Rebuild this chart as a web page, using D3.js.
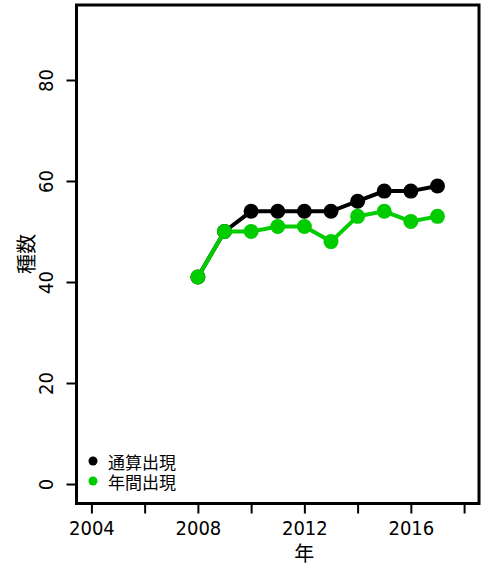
<!DOCTYPE html>
<html><head><meta charset="utf-8">
<script src="https://cdn.jsdelivr.net/npm/d3@7"></script>
<style>body{margin:0;background:#fff}svg{display:block}</style>
</head><body>
<script>
const years = [2008,2009,2010,2011,2012,2013,2014,2015,2016,2017];
const cumulative = [41,50,54,54,54,54,56,58,58,59];
const annual = [41,50,50,51,51,48,53,54,52,53];
const xTicks = [2004,2006,2008,2010,2012,2014,2016,2018];
const xTickLabels = ["2004","","2008","","2012","","2016",""];
const yTicks = [0,20,40,60,80];
const seriesNames = ["通算出現","年間出現"];
const seriesColors = ["#000000","#00CC00"];

const W=489,H=569;
const L=76.5,R=479,T=5,B=503.5;
const svg=d3.select("body").append("svg").attr("width",W).attr("height",H);
const x=d3.scaleLinear().domain([2003.44,2018.56]).range([L,R]);
const y=d3.scaleLinear().domain([-3.86,94.85]).range([B,T]);
const numFont="'DejaVu Sans Condensed','Liberation Sans Narrow','DejaVu Sans',sans-serif";
const cjkFont="'Noto Sans CJK JP',sans-serif";

// axes
const xa=svg.append("g").attr("transform",`translate(0,${B})`)
  .call(d3.axisBottom(x).tickValues(xTicks).tickFormat((d,i)=>xTickLabels[i]).tickSize(10).tickPadding(6));
const ya=svg.append("g").attr("transform",`translate(${L},0)`)
  .call(d3.axisLeft(y).tickValues(yTicks).tickSize(10).tickPadding(6));
[xa,ya].forEach(a=>{a.select(".domain").remove();a.selectAll("line").attr("stroke","#000").attr("stroke-width",2);
  a.selectAll("text").attr("font-family",numFont).attr("font-stretch","condensed").attr("font-size",20).attr("fill","#000");});
ya.selectAll(".tick text").attr("text-anchor","middle").attr("dy",null).attr("x",0)
  .attr("transform","translate(-31,0) rotate(-90)").attr("dominant-baseline","central");
xa.selectAll(".tick text").attr("dy","0.75em");

// box
svg.append("rect").attr("x",L).attr("y",T).attr("width",R-L).attr("height",B-T)
  .attr("fill","none").attr("stroke","#000").attr("stroke-width",3);

// series
const data=[cumulative,annual];
data.forEach((vals,si)=>{
  const pts=years.map((yr,i)=>[yr,vals[i]]);
  svg.append("path").datum(pts).attr("fill","none").attr("stroke",seriesColors[si]).attr("stroke-width",4)
    .attr("d",d3.line().x(d=>x(d[0])).y(d=>y(d[1])));
  svg.append("g").selectAll("circle").data(pts).join("circle")
    .attr("cx",d=>x(d[0])).attr("cy",d=>y(d[1])).attr("r",7.5).attr("fill",seriesColors[si]);
});

// labels
svg.append("text").attr("x",x(2012)).attr("y",561).attr("text-anchor","middle")
  .attr("font-family",cjkFont).attr("font-size",20).text("年");
svg.append("text").attr("transform",`translate(25,254) rotate(-90)`).attr("text-anchor","middle")
  .attr("dominant-baseline","central").attr("font-family",cjkFont).attr("font-size",20).text("種数");

// legend
seriesNames.forEach((n,i)=>{
  const cy=461+i*20;
  svg.append("circle").attr("cx",93).attr("cy",cy).attr("r",4.5).attr("fill",seriesColors[i]);
  svg.append("text").attr("x",108).attr("y",cy).attr("dominant-baseline","central")
    .attr("font-family",cjkFont).attr("font-size",17).text(n);
});
</script>
</body></html>
